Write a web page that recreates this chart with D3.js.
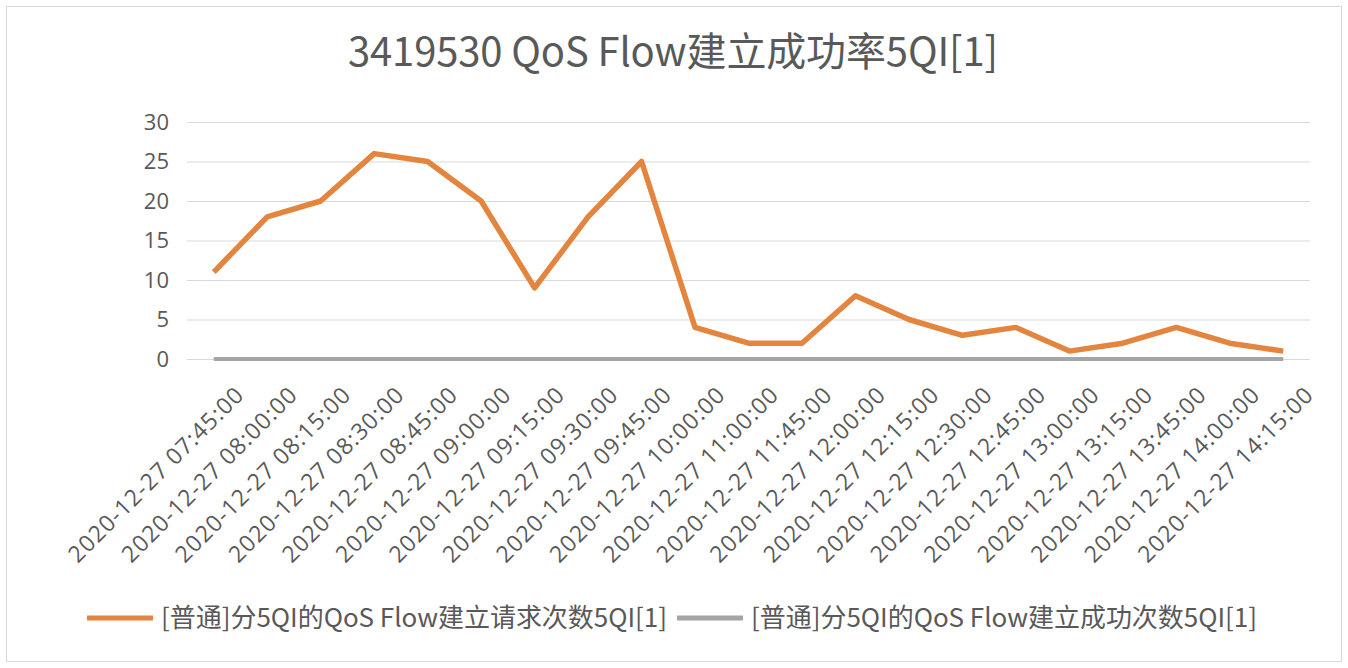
<!DOCTYPE html>
<html>
<head>
<meta charset="utf-8">
<script src="https://cdn.jsdelivr.net/npm/d3@7"></script>
<style>
  body { margin: 0; background: #fff; }
  svg { font-family: "Noto Sans CJK SC", "Open Sans", sans-serif; }
</style>
</head>
<body>
<svg id="chart"></svg>
<script>
// Chart data
const times = [
    "2020-12-27 07:45:00", "2020-12-27 08:00:00", "2020-12-27 08:15:00",
    "2020-12-27 08:30:00", "2020-12-27 08:45:00", "2020-12-27 09:00:00",
    "2020-12-27 09:15:00", "2020-12-27 09:30:00", "2020-12-27 09:45:00",
    "2020-12-27 10:00:00", "2020-12-27 11:00:00", "2020-12-27 11:45:00",
    "2020-12-27 12:00:00", "2020-12-27 12:15:00", "2020-12-27 12:30:00",
    "2020-12-27 12:45:00", "2020-12-27 13:00:00", "2020-12-27 13:15:00",
    "2020-12-27 13:45:00", "2020-12-27 14:00:00", "2020-12-27 14:15:00"
];
const requestCounts = [11, 18, 20, 26, 25, 20, 9, 18, 25, 4, 2, 2, 8, 5, 3, 4, 1, 2, 4, 2, 1];
const successCounts = [0, 0, 0, 0, 0, 0, 0, 0, 0, 0, 0, 0, 0, 0, 0, 0, 0, 0, 0, 0, 0];
const yTicks = [0, 5, 10, 15, 20, 25, 30];
const seriesNames = [
    "[普通]分5QI的QoS Flow建立请求次数5QI[1]",
    "[普通]分5QI的QoS Flow建立成功次数5QI[1]"
];
const title = "3419530 QoS Flow建立成功率5QI[1]";

const width = 1348;
const height = 668;
const margin = { top: 122, right: 38, bottom: 309, left: 187 };

const svg = d3.select("#chart")
    .attr("width", width)
    .attr("height", height);

// Outer border
svg.append("rect")
    .attr("x", 6.5).attr("y", 6.5)
    .attr("width", width - 13).attr("height", height - 13)
    .attr("fill", "#fff")
    .attr("stroke", "#d9d9d9");

svg.append("text")
    .attr("x", 673).attr("y", 66)
    .attr("text-anchor", "middle")
    .attr("font-size", 40)
    .attr("textLength", 650)
    .attr("fill", "#595959")
    .text(title);

const x = d3.scaleBand()
    .domain(times)
    .range([margin.left, width - margin.right]);

const y = d3.scaleLinear()
    .domain([0, 30])
    .range([height - margin.bottom, margin.top]);

// Gridlines
svg.append("g")
    .selectAll("line")
    .data(yTicks)
    .enter().append("line")
    .attr("x1", margin.left)
    .attr("x2", width - margin.right)
    .attr("y1", d => y(d) + 0.5)
    .attr("y2", d => y(d) + 0.5)
    .attr("stroke", "#d9d9d9")
    .attr("stroke-width", 1);

// Y axis labels
const yAxis = svg.append("g")
    .attr("transform", `translate(${margin.left - 18},0)`)
    .call(d3.axisLeft(y).tickValues(yTicks).tickSize(0).tickPadding(0));
yAxis.select(".domain").remove();
yAxis.selectAll("text")
    .attr("font-size", 22)
    .attr("font-family", "\"Open Sans\", sans-serif")
    .attr("fill", "#595959");

// X axis labels, rotated
const xAxis = svg.append("g")
    .attr("transform", `translate(0,${height - margin.bottom})`)
    .call(d3.axisBottom(x).tickSize(0).tickPadding(0));
xAxis.select(".domain").remove();
xAxis.selectAll("text")
    .attr("font-size", 23)
    .attr("font-family", "\"Open Sans\", sans-serif")
    .attr("fill", "#595959")
    .attr("text-anchor", "end")
    .attr("dy", null)
    .attr("textLength", 236)
    .attr("transform", "translate(31,38) rotate(-45)");

const line = d3.line()
    .x((d, i) => x(times[i]) + x.bandwidth() / 2)
    .y(d => y(d));

svg.append("path")
    .datum(successCounts)
    .attr("fill", "none")
    .attr("stroke", "#a5a5a5")
    .attr("stroke-width", 4)
    .attr("d", line);

svg.append("path")
    .datum(requestCounts)
    .attr("fill", "none")
    .attr("stroke", "#e3853f")
    .attr("stroke-width", 5.5)
    .attr("stroke-linejoin", "round")
    .attr("d", line);

// Legend
const legendColors = ["#e3853f", "#a5a5a5"];
const legendX = [87, 677];
const legend = svg.append("g")
    .selectAll("g")
    .data(seriesNames)
    .enter().append("g")
    .attr("transform", (d, i) => `translate(${legendX[i]},618)`);

legend.append("line")
    .attr("x1", 0).attr("x2", 66)
    .attr("stroke", (d, i) => legendColors[i])
    .attr("stroke-width", 5);

legend.append("text")
    .attr("x", 74)
    .attr("dy", "0.35em")
    .attr("font-size", 26)
    .attr("textLength", 506)
    .attr("fill", "#595959")
    .text(d => d);
</script>
</body>
</html>
